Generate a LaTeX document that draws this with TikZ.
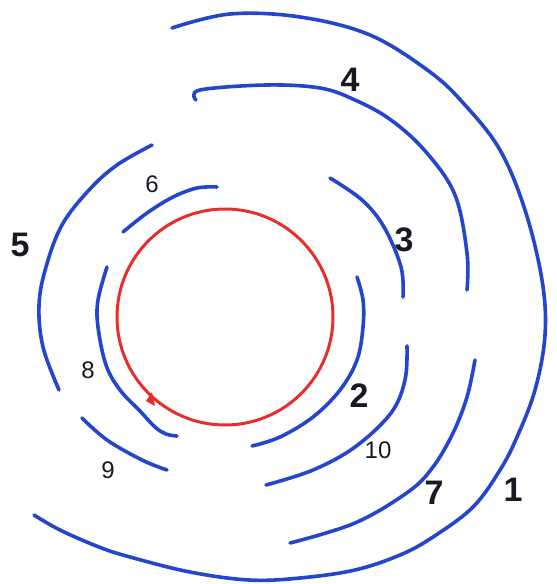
\documentclass[tikz,border=0pt]{standalone}
\usepackage{fontspec}
\setmainfont{Liberation Sans}
\begin{document}
\begin{tikzpicture}[x=1pt,y=-1pt,
  arcline/.style={draw=inkblue,line width=3.6pt,line cap=round,line join=round},
  redline/.style={draw=inkred,line width=3pt},
  biglab/.style={text=inkblack,font=\fontsize{34}{34}\selectfont\bfseries,inner sep=0pt},
  smalllab/.style={text=inkblack,font=\fontsize{24}{24}\selectfont,inner sep=0pt}]
\definecolor{inkblue}{RGB}{35,70,205}
\definecolor{inkred}{RGB}{232,45,45}
\definecolor{inkblack}{RGB}{25,25,35}
\useasboundingbox[fill=white] (0,0) rectangle (557,584);
% red circle
\draw[redline] (225,317) circle[radius=108];
\fill[inkred] (146,401) -- (152,392) -- (155,406) -- cycle;
% 1
\draw[arcline] plot[smooth,tension=0.6] coordinates {(172,28) (230,14) (300,17) (370,35) (430,72) (465,105) (500,150) (525,210) (542,280) (545,335) (535,390) (517,437) (500,470) (473,507) (433,537) (400,555) (355,570) (300,578) (249,580) (190,572) (130,557) (99,547) (60,530) (34,515)};
% 4
\draw[arcline] plot[smooth,tension=0.6] coordinates {(196,100) (200,90) (266,85) (320,88) (355,100) (391,120) (426,152) (455,195) (467,253) (467,290)};
% 3
\draw[arcline] plot[smooth,tension=0.6] coordinates {(330,178) (362,200) (384,227) (401,267) (403,297)};
% 5
\draw[arcline] plot[smooth,tension=0.6] coordinates {(152,145) (117,165) (89,190) (62,225) (46,267) (39,305) (43,347) (59,390)};
% 6
\draw[arcline] plot[smooth,tension=0.6] coordinates {(123,232) (147,213) (173,197) (197,188) (217,187)};
% 8
\draw[arcline] plot[smooth,tension=0.6] coordinates {(107,267) (98,300) (98,327) (106,365) (120,390) (140,411) (155,427) (166,434) (177,436)};
% 2
\draw[arcline] plot[smooth,tension=0.6] coordinates {(357,277) (363,300) (363,327) (357,360) (340,390) (313,417) (280,437) (252,446)};
% 10
\draw[arcline] plot[smooth,tension=0.6] coordinates {(407,346) (405,380) (391,413) (355,447) (313,470) (266,485)};
% 7
\draw[arcline] plot[smooth,tension=0.6] coordinates {(475,360) (467,397) (453,433) (433,467) (408,492) (355,523) (290,543)};
% 9
\draw[arcline] plot[smooth,tension=0.6] coordinates {(82,418) (107,440) (142,460) (167,470)};
% labels
\node[biglab] (l1) at (513,490) {1};
\node[biglab] (l2) at (359,396) {2};
\node[biglab] (l3) at (404,240) {3};
\node[biglab] (l4) at (350,80) {4};
\node[biglab] (l5) at (20,245) {5};
\node[smalllab] (l6) at (152,184) {6};
\node[biglab] (l7) at (434,493) {7};
\node[smalllab] (l8) at (88,370) {8};
\node[smalllab] (l9) at (108,470) {9};
\node[smalllab] (l10) at (378,450) {10};
\end{tikzpicture}
\end{document}
